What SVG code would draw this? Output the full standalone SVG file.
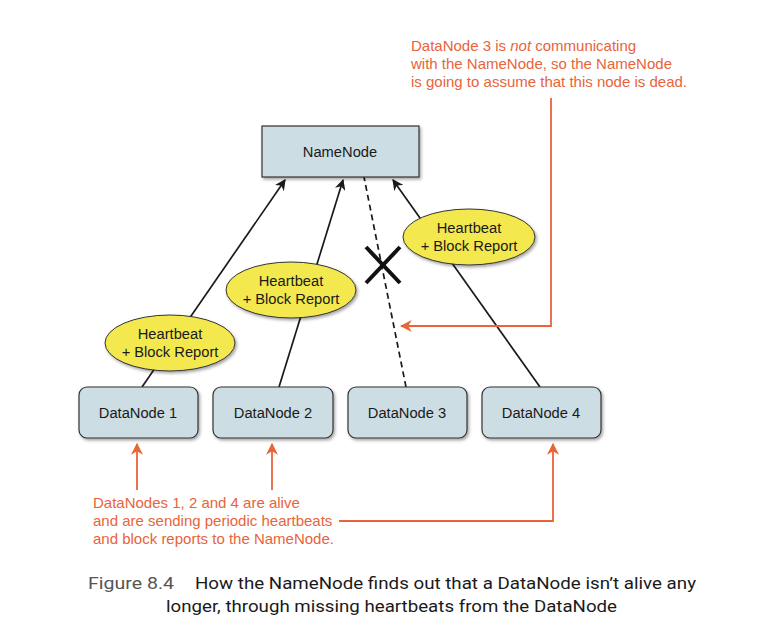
<svg xmlns="http://www.w3.org/2000/svg" width="780" height="634" viewBox="0 0 780 634">
<defs>
<filter id="sh" x="-20%" y="-20%" width="150%" height="160%">
<feDropShadow dx="1.5" dy="2" stdDeviation="1.5" flood-color="#000" flood-opacity="0.35"/>
</filter>
<marker id="ab" viewBox="0 0 10 10" refX="9" refY="5" markerWidth="11" markerHeight="11" markerUnits="userSpaceOnUse" orient="auto">
<path d="M0,0 L10,5 L0,10 L3,5 Z" fill="#1a1a1a"/>
</marker>
<marker id="ao" viewBox="0 0 10 10" refX="9" refY="5" markerWidth="12" markerHeight="12" markerUnits="userSpaceOnUse" orient="auto">
<path d="M0,0 L10,5 L0,10 L3,5 Z" fill="#e8643a"/>
</marker>
</defs>
<style>
.box{fill:#cddde4;stroke:#333;stroke-width:1.2;filter:url(#sh)}
.ell{fill:#f3e84e;stroke:#333;stroke-width:1;filter:url(#sh)}
.lbl{font-family:"Liberation Sans",Arial,sans-serif;font-size:14.7px;fill:#1a1a1a;text-anchor:middle}
.note{font-family:"Liberation Sans",Arial,sans-serif;font-size:15px;fill:#e8643a}
.cap{font-family:Roboto,"Liberation Sans",sans-serif;font-size:17px;fill:#1a1a1a}
.ln{stroke:#1a1a1a;stroke-width:1.7;fill:none}
.ol{stroke:#e8643a;stroke-width:1.8;fill:none}
</style>
<rect width="780" height="634" fill="#fff"/>

<g id="connectors">
<line class="ln" x1="142" y1="387" x2="285" y2="180" marker-end="url(#ab)"/>
<line class="ln" x1="279" y1="387" x2="343" y2="180" marker-end="url(#ab)"/>
<line class="ln" x1="406" y1="387" x2="364" y2="177" stroke-dasharray="6,4"/>
<line class="ln" x1="540" y1="387" x2="393" y2="180" marker-end="url(#ab)"/>
</g>

<g id="namenode">
<rect class="box" x="262" y="126" width="157" height="51"/>
<text class="lbl" x="340" y="157">NameNode</text>
</g>

<g id="datanode1">
<rect class="box" x="79" y="387" width="119" height="51" rx="8"/>
<text class="lbl" x="138" y="418">DataNode 1</text>
</g>
<g id="datanode2">
<rect class="box" x="213" y="387" width="120" height="51" rx="8"/>
<text class="lbl" x="273" y="418">DataNode 2</text>
</g>
<g id="datanode3">
<rect class="box" x="348" y="387" width="119" height="51" rx="8"/>
<text class="lbl" x="407" y="418">DataNode 3</text>
</g>
<g id="datanode4">
<rect class="box" x="482" y="387" width="119" height="51" rx="8"/>
<text class="lbl" x="541" y="418">DataNode 4</text>
</g>

<g id="heartbeat1">
<ellipse class="ell" cx="170" cy="343" rx="65" ry="28"/>
<text class="lbl" x="170" y="339">Heartbeat</text>
<text class="lbl" x="170" y="357">+ Block Report</text>
</g>
<g id="heartbeat2">
<ellipse class="ell" cx="291" cy="290" rx="65" ry="28"/>
<text class="lbl" x="291" y="286">Heartbeat</text>
<text class="lbl" x="291" y="304">+ Block Report</text>
</g>
<g id="heartbeat3">
<ellipse class="ell" cx="469" cy="237" rx="66" ry="28"/>
<text class="lbl" x="469" y="233">Heartbeat</text>
<text class="lbl" x="469" y="251">+ Block Report</text>
</g>

<g id="cross">
<line x1="366" y1="247" x2="400" y2="283" stroke="#111" stroke-width="4"/>
<line x1="400" y1="247" x2="366" y2="283" stroke="#111" stroke-width="4"/>
</g>

<g id="note-top">
<text class="note" x="411" y="51">DataNode 3 is <tspan font-style="italic">not</tspan> communicating</text>
<text class="note" x="411" y="69">with the NameNode, so the NameNode</text>
<text class="note" x="411" y="87">is going to assume that this node is dead.</text>
<polyline class="ol" points="551,98 551,326 401,326" marker-end="url(#ao)"/>
</g>

<g id="note-bottom">
<text class="note" x="93" y="508">DataNodes 1, 2 and 4 are alive</text>
<text class="note" x="93" y="526">and are sending periodic heartbeats</text>
<text class="note" x="93" y="544">and block reports to the NameNode.</text>
<line class="ol" x1="137" y1="490" x2="137" y2="444" marker-end="url(#ao)"/>
<line class="ol" x1="272" y1="490" x2="272" y2="444" marker-end="url(#ao)"/>
<polyline class="ol" points="339,521 553,521 553,444" marker-end="url(#ao)"/>
</g>

<g id="caption">
<text class="cap" x="88" y="589"><tspan fill="#555" textLength="86" lengthAdjust="spacingAndGlyphs">Figure 8.4</tspan></text>
<text class="cap" x="195" y="589" textLength="501" lengthAdjust="spacingAndGlyphs">How the NameNode finds out that a DataNode isn’t alive any</text>
<text class="cap" x="166" y="612" textLength="451" lengthAdjust="spacingAndGlyphs">longer, through missing heartbeats from the DataNode</text>
</g>
</svg>
